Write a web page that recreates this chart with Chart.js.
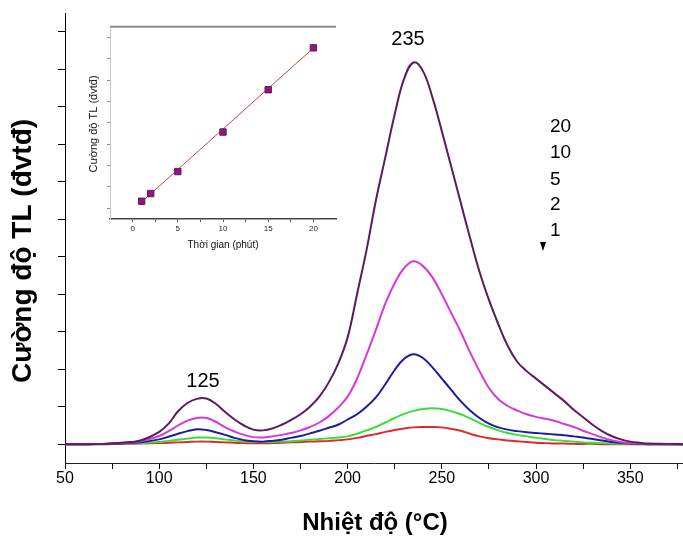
<!DOCTYPE html>
<html lang="vi">
<head>
<meta charset="UTF-8">
<title>Cường độ TL</title>
<script src="https://cdn.jsdelivr.net/npm/chart.js@4.4.3/dist/chart.umd.min.js"></script>
<style>
  body { margin: 0; background: #fff; }
  #wrap { position: relative; width: 683px; height: 536px; }
  #main { position: absolute; left: 0; top: 0; }
  #inset { position: absolute; left: 70px; top: 10px; }
</style>
</head>
<body>
<div id="wrap">
  <canvas id="main" width="683" height="536"></canvas>
  <canvas id="inset" width="280" height="250"></canvas>
</div>
<script>
// nhiệt độ (°C)
const temps = [50, 60, 70, 80, 90, 100, 105, 110, 115, 120, 125, 130, 135, 140, 145, 150, 155, 160, 165, 170,
  175, 180, 185, 190, 195, 200, 205, 210, 215, 220, 225, 230, 235, 240, 245, 250, 255, 260, 265, 270,
  275, 280, 285, 290, 295, 300, 305, 310, 315, 320, 325, 330, 335, 340, 345, 350, 355, 360, 370, 380];

// cường độ TL theo thời gian chiếu (phút)
const tl20 = [0, 0, 0.01, 0.04, 0.1, 0.33, 0.55, 0.88, 1.1, 1.21, 1.22, 1.08, 0.86, 0.66, 0.5, 0.39, 0.37, 0.42, 0.52, 0.65,
  0.8, 1.0, 1.27, 1.65, 2.15, 2.85, 4.0, 5.17, 6.5, 7.65, 8.8, 9.75, 10.18, 9.95, 9.25, 8.35, 7.4, 6.45, 5.5, 4.6,
  3.85, 3.2, 2.62, 2.2, 1.95, 1.75, 1.55, 1.35, 1.15, 0.92, 0.72, 0.52, 0.35, 0.22, 0.13, 0.07, 0.04, 0.02, 0.01, 0];
const tl10 = [0, 0, 0.01, 0.03, 0.08, 0.22, 0.35, 0.5, 0.63, 0.7, 0.7, 0.6, 0.45, 0.34, 0.25, 0.19, 0.18, 0.21, 0.25, 0.3,
  0.37, 0.46, 0.58, 0.75, 0.98, 1.27, 1.75, 2.38, 3.05, 3.75, 4.3, 4.7, 4.88, 4.75, 4.45, 4.0, 3.5, 3.0, 2.45, 1.95,
  1.5, 1.2, 1.02, 0.9, 0.8, 0.73, 0.68, 0.62, 0.54, 0.46, 0.36, 0.27, 0.18, 0.11, 0.06, 0.03, 0.02, 0.01, 0, 0];
const tl5 = [0, 0, 0.01, 0.02, 0.05, 0.13, 0.2, 0.28, 0.35, 0.4, 0.38, 0.32, 0.25, 0.17, 0.11, 0.08, 0.07, 0.09, 0.12, 0.17,
  0.22, 0.29, 0.36, 0.44, 0.52, 0.66, 0.8, 1.0, 1.25, 1.6, 1.98, 2.28, 2.4, 2.3, 2.05, 1.75, 1.45, 1.15, 0.9, 0.7,
  0.55, 0.45, 0.39, 0.35, 0.32, 0.3, 0.28, 0.26, 0.24, 0.21, 0.18, 0.14, 0.1, 0.06, 0.04, 0.02, 0.01, 0, 0, 0];
const tl2 = [0, 0, 0, 0.01, 0.03, 0.06, 0.09, 0.12, 0.15, 0.18, 0.18, 0.16, 0.13, 0.1, 0.08, 0.06, 0.06, 0.06, 0.07, 0.08,
  0.1, 0.12, 0.14, 0.16, 0.18, 0.21, 0.28, 0.37, 0.46, 0.58, 0.7, 0.81, 0.89, 0.94, 0.96, 0.94, 0.88, 0.8, 0.69, 0.57,
  0.46, 0.37, 0.3, 0.25, 0.21, 0.17, 0.14, 0.11, 0.09, 0.07, 0.05, 0.04, 0.03, 0.02, 0.01, 0.01, 0, 0, 0, 0];
const tl1 = [0, 0, 0, 0.01, 0.02, 0.03, 0.04, 0.05, 0.06, 0.07, 0.07, 0.06, 0.05, 0.04, 0.03, 0.03, 0.03, 0.03, 0.04, 0.05,
  0.06, 0.07, 0.08, 0.09, 0.11, 0.13, 0.17, 0.22, 0.27, 0.33, 0.38, 0.42, 0.45, 0.46, 0.46, 0.45, 0.41, 0.36, 0.28, 0.21,
  0.16, 0.13, 0.1, 0.08, 0.06, 0.04, 0.03, 0.02, 0.02, 0.01, 0.01, 0.01, 0, 0, 0, 0, 0, 0, 0, 0];

const xTicks = [50, 75, 100, 125, 150, 175, 200, 225, 250, 275, 300, 325, 350, 375];
const yTicks = [0, 1, 2, 3, 4, 5, 6, 7, 8, 9, 10, 11];

// hình nhỏ: cường độ TL theo thời gian
const insetTime = [1, 2, 5, 10, 15, 20];
const insetTL = [0.33, 0.69, 1.72, 3.57, 5.55, 7.51];
const fitTime = [1, 20];
const fitTL = [0.3, 7.5];
const insetXTicks = [0, 2.5, 5, 7.5, 10, 12.5, 15, 17.5, 20];
const insetYTicks = [0, 1, 2, 3, 4, 5, 6, 7, 8];

const FONT = "'Liberation Sans', Arial, sans-serif";

const textPlugin = {
  id: 'texts',
  afterDraw(chart, args, opts) {
    const ctx = chart.ctx;
    (opts.items || []).forEach(t => {
      ctx.save();
      ctx.font = t.font;
      ctx.fillStyle = t.color || '#000';
      ctx.textAlign = t.align || 'center';
      ctx.textBaseline = 'alphabetic';
      ctx.translate(t.x, t.y);
      if (t.rotate) ctx.rotate(t.rotate);
      ctx.fillText(t.text, 0, 0);
      ctx.restore();
    });
    if (opts.arrow) {
      const a = opts.arrow;
      ctx.save();
      ctx.fillStyle = '#000';
      ctx.beginPath();
      ctx.moveTo(a.x - 3, a.y);
      ctx.lineTo(a.x + 3, a.y);
      ctx.lineTo(a.x, a.y + 9);
      ctx.closePath();
      ctx.fill();
      ctx.restore();
    }
    if (opts.topLine) {
      const ca = chart.chartArea;
      ctx.save();
      ctx.strokeStyle = opts.topLine.color;
      ctx.lineWidth = opts.topLine.width;
      ctx.beginPath();
      ctx.moveTo(ca.left, ca.top);
      ctx.lineTo(ca.right, ca.top);
      ctx.stroke();
      ctx.restore();
    }
  }
};

const pts = (xs, ys) => xs.map((x, i) => ({ x: x, y: ys[i] }));

const series = [
  { label: '20', data: tl20, color: '#5c1a63' },
  { label: '10', data: tl10, color: '#d63ad6' },
  { label: '5', data: tl5, color: '#1c1ca0' },
  { label: '2', data: tl2, color: '#3ddc3d' },
  { label: '1', data: tl1, color: '#dd2a2a' }
];

new Chart(document.getElementById('main'), {
  type: 'line',
  data: {
    datasets: series.map(s => ({
      label: s.label,
      data: pts(temps, s.data),
      borderColor: s.color,
      backgroundColor: s.color
    }))
  },
  options: {
    responsive: false,
    animation: false,
    layout: { padding: { top: 13, left: 0, right: 0, bottom: 0 } },
    elements: {
      point: { radius: 0 },
      line: { borderWidth: 2, tension: 0.4 }
    },
    plugins: {
      legend: { display: false },
      tooltip: { enabled: false },
      texts: {
        items: [
          { text: 'Cường độ TL (đvtđ)', x: 31, y: 251, rotate: -Math.PI / 2, font: 'bold 28px ' + FONT },
          { text: 'Nhiệt độ (°C)', x: 375, y: 530, font: 'bold 24px ' + FONT },
          { text: '125', x: 203, y: 387, font: '20px ' + FONT },
          { text: '235', x: 408, y: 45, font: '20px ' + FONT },
          { text: '20', x: 550, y: 132, align: 'left', font: '19px ' + FONT },
          { text: '10', x: 550, y: 158, align: 'left', font: '19px ' + FONT },
          { text: '5', x: 550, y: 185, align: 'left', font: '19px ' + FONT },
          { text: '2', x: 550, y: 210, align: 'left', font: '19px ' + FONT },
          { text: '1', x: 550, y: 236, align: 'left', font: '19px ' + FONT }
        ],
        arrow: { x: 543, y: 242 }
      }
    },
    scales: {
      x: {
        type: 'linear',
        min: 50,
        max: 378,
        afterBuildTicks: s => { s.ticks = xTicks.map(v => ({ value: v })); },
        afterFit: s => { s.height = 73; },
        ticks: {
          autoSkip: false,
          maxRotation: 0,
          padding: 0,
          color: '#000',
          font: { size: 16, family: FONT },
          callback: v => (v % 50 === 0 ? v : '')
        },
        grid: { drawOnChartArea: false, tickLength: 6, color: '#000' },
        border: { color: '#222', width: 1 }
      },
      y: {
        min: -0.5,
        max: 11.5,
        afterBuildTicks: s => { s.ticks = yTicks.map(v => ({ value: v })); },
        afterFit: s => { s.width = 65; },
        ticks: { display: false },
        grid: { drawOnChartArea: false, tickLength: 7, color: '#000' },
        border: { color: '#000', width: 1 }
      }
    }
  },
  plugins: [textPlugin]
});

new Chart(document.getElementById('inset'), {
  type: 'line',
  data: {
    datasets: [
      {
        label: 'đo',
        data: pts(insetTime, insetTL),
        showLine: false,
        pointStyle: 'rect',
        pointRadius: 4.5,
        backgroundColor: '#8b1a7a',
        borderColor: '#6d1060',
        borderWidth: 1
      },
      {
        label: 'khớp',
        data: pts(fitTime, fitTL),
        borderColor: '#d04040',
        borderWidth: 1,
        pointRadius: 0
      }
    ]
  },
  options: {
    responsive: false,
    animation: false,
    layout: { padding: { top: 16.7, left: 0, right: 14, bottom: 0 } },
    plugins: {
      legend: { display: false },
      tooltip: { enabled: false },
      texts: {
        items: [
          { text: 'Thời gian (phút)', x: 153, y: 238, font: '10px ' + FONT, color: '#111' },
          { text: 'Cường độ TL (đvtđ)', x: 26.5, y: 114, rotate: -Math.PI / 2, font: '11px ' + FONT, color: '#111' }
        ],
        topLine: { color: '#8c8c8c', width: 2 }
      }
    },
    scales: {
      x: {
        type: 'linear',
        min: -2.5,
        max: 22.5,
        afterBuildTicks: s => { s.ticks = insetXTicks.map(v => ({ value: v })); },
        afterFit: s => { s.height = 41; },
        ticks: {
          autoSkip: false,
          maxRotation: 0,
          padding: 1.5,
          color: '#222',
          font: { size: 8, family: FONT },
          callback: v => (v % 5 === 0 ? v : '')
        },
        grid: { drawOnChartArea: false, tickLength: 3, color: '#555' },
        border: { color: '#444', width: 1.5 }
      },
      y: {
        min: -0.5,
        max: 8.5,
        afterBuildTicks: s => { s.ticks = insetYTicks.map(v => ({ value: v })); },
        afterFit: s => { s.width = 40; },
        ticks: { display: false },
        grid: { drawOnChartArea: false, tickLength: 3, color: '#888' },
        border: { color: '#c8c8c8', width: 1 }
      }
    }
  },
  plugins: [textPlugin]
});
</script>
</body>
</html>
